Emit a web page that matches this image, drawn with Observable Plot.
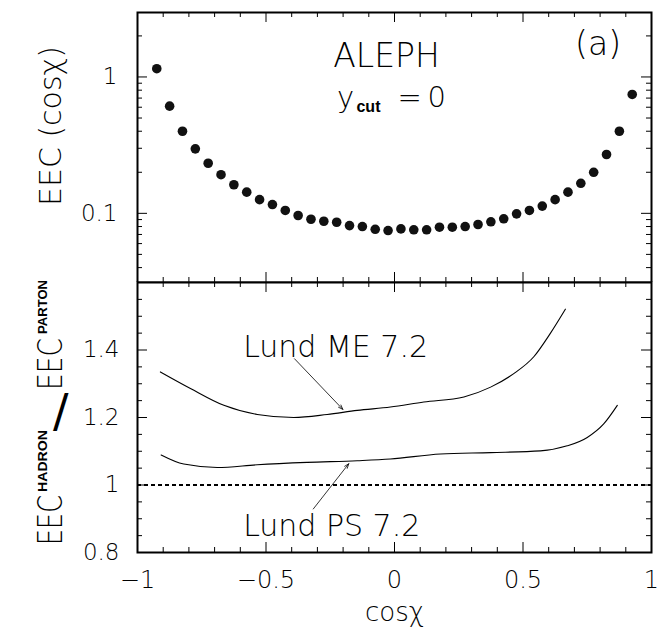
<!DOCTYPE html>
<html><head><meta charset="utf-8">
<script src="https://cdn.jsdelivr.net/npm/d3@7"></script>
<script src="https://cdn.jsdelivr.net/npm/@observablehq/plot@0.6"></script>
<style>
body{margin:0;background:#fff;}
#chart{position:relative;width:670px;height:627px;background:#fff;}
#chart svg{position:absolute;left:0;overflow:visible;}
</style></head><body><div id="chart"></div>
<script>
// ---- data: top panel (ALEPH EEC, y_cut = 0) ----
const cosChi = [-0.925,-0.875,-0.825,-0.775,-0.725,-0.675,-0.625,-0.575,-0.525,-0.475,-0.425,-0.375,-0.325,-0.275,-0.225,-0.175,-0.125,-0.075,-0.025,0.025,0.075,0.125,0.175,0.225,0.275,0.325,0.375,0.425,0.475,0.525,0.575,0.625,0.675,0.725,0.775,0.825,0.875,0.925];
const eec = [1.15,0.611,0.400,0.297,0.233,0.192,0.162,0.143,0.126,0.116,0.105,0.0964,0.0905,0.0875,0.0860,0.0813,0.0800,0.0764,0.0748,0.0769,0.0757,0.0757,0.0791,0.0791,0.0800,0.0828,0.0867,0.0912,0.0991,0.105,0.113,0.126,0.143,0.166,0.200,0.270,0.400,0.744];

// ---- data: bottom panel (hadron / parton ratio) ----
const meX = [-0.911,-0.794,-0.664,-0.534,-0.392,-0.262,-0.145,-0.016,0.114,0.270,0.374,0.464,0.542,0.607,0.665];
const meY = [1.335,1.286,1.236,1.209,1.200,1.209,1.221,1.231,1.246,1.261,1.290,1.330,1.380,1.450,1.521];
const psX = [-0.908,-0.820,-0.690,-0.534,-0.340,-0.145,-0.016,0.179,0.374,0.568,0.672,0.750,0.814,0.867];
const psY = [1.089,1.062,1.052,1.060,1.067,1.072,1.077,1.092,1.096,1.101,1.116,1.141,1.181,1.236];
const referenceLevel = [1];

// ---- ticks & labels ----
const xLabelTicks = [-1,-0.5,0,0.5,1];
const xMajorTicks = [-0.5,0,0.5];
const xMinorTicks = [-0.9,-0.8,-0.7,-0.6,-0.4,-0.3,-0.2,-0.1,0.1,0.2,0.3,0.4,0.6,0.7,0.8,0.9];
const logMajor = [0.1,1];
const logMinor = [0.04,0.05,0.06,0.07,0.08,0.09,0.2,0.3,0.4,0.5,0.6,0.7,0.8,0.9,2];
const ratioMajor = [1.0,1.2,1.4];
const ratioMinor = [0.85,0.9,0.95,1.05,1.1,1.15,1.25,1.3,1.35,1.45,1.5,1.55];
const ratioLabelTicks = [0.8,1,1.2,1.4];

// ---- annotations (data units) ----
const curveLabels = [
  {text:"Lund ME 7.2", x:-0.589, y:1.379},
  {text:"Lund PS 7.2", x:-0.589, y:0.850}
];
const arrows = [
  {x1:-0.389, y1:1.374, x2:-0.201, y2:1.224},
  {x1:-0.316, y1:0.929, x2:-0.178, y2:1.063}
];
const topTitles = [
  {text:"ALEPH", x:-0.031, y:1.18, size:33},
  {text:"(a)", x:0.792, y:1.438, size:33}
];
const ycutParts = [
  {text:"y", x:-0.224, y:0.602, size:29},
  {text:"=", x:0.012, y:0.602, size:29},
  {text:"0", x:0.128, y:0.602, size:29}
];
const ycutSub = [{text:"cut", x:-0.148, y:0.552}];

const W = 670, mL = 137, mR = 19;
const plotW = W - mL - mR;
const topH = 282, topMT = 12, topMB = 0;
const botH = 345, botMT = 0, botMB = 75;
const innerTop = topH - topMT - topMB;
const innerBot = botH - botMT - botMB;
const SANS = "DejaVu Sans";
const ARIAL = "Liberation Sans";
const LIGHT = 200;

const pts = cosChi.map((c,i)=>({c, v:eec[i]}));
const me = meX.map((x,i)=>({x, y:meY[i]}));
const ps = psX.map((x,i)=>({x, y:psY[i]}));

function frameTicksX(H){
  return [
    Plot.tickX(xMinorTicks, {x:d=>d, insetBottom:H-5, strokeWidth:1}),
    Plot.tickX(xMajorTicks, {x:d=>d, insetBottom:H-10, strokeWidth:1}),
    Plot.tickX(xMinorTicks, {x:d=>d, insetTop:H-5, strokeWidth:1}),
    Plot.tickX(xMajorTicks, {x:d=>d, insetTop:H-10, strokeWidth:1})
  ];
}
function frameTicksY(minor, major){
  return [
    Plot.tickY(minor, {y:d=>d, insetRight:plotW-5, strokeWidth:1}),
    Plot.tickY(major, {y:d=>d, insetRight:plotW-10, strokeWidth:1}),
    Plot.tickY(minor, {y:d=>d, insetLeft:plotW-5, strokeWidth:1}),
    Plot.tickY(major, {y:d=>d, insetLeft:plotW-10, strokeWidth:1})
  ];
}

const topPlot = Plot.plot({
  width: W, height: topH,
  marginLeft: mL, marginRight: mR, marginTop: topMT, marginBottom: topMB,
  style: {fontFamily: SANS, fontWeight: LIGHT, color: "black", background: "white", overflow: "visible"},
  x: {domain: [-1, 1], axis: null},
  y: {type: "log", domain: [0.0311, 2.97], axis: null},
  marks: [
    ...frameTicksX(innerTop),
    ...frameTicksY(logMinor, logMajor),
    Plot.axisY({ticks: logMajor, tickSize: 0, tickPadding: 20, fontSize: 23,
      tickFormat: d => d === 1 ? "1" : "0.1", label: null}),
    Plot.dot(pts, {x: "c", y: "v", r: 4.8, fill: "#111", stroke: "none"}),
    Plot.text(topTitles, {x: "x", y: "y", text: "text", fontSize: "size", fontFamily: SANS, fontWeight: LIGHT, lineAnchor: "bottom", textAnchor: "middle"}),
    Plot.text(ycutParts, {x: "x", y: "y", text: "text", fontSize: "size", fontFamily: SANS, fontWeight: LIGHT, lineAnchor: "bottom", textAnchor: "start"}),
    Plot.text(ycutSub, {x: "x", y: "y", text: "text", fontSize: 16, fontWeight: "bold", fontFamily: ARIAL, lineAnchor: "bottom", textAnchor: "start"}),
    Plot.text(["EEC (cosχ)"], {frameAnchor: "left", rotate: -90, dx: 60 - mL, dy: 125.5 - (topMT + innerTop/2),
      lineAnchor: "bottom", textAnchor: "middle", fontSize: 30, fontFamily: SANS, fontWeight: LIGHT}),
    Plot.frame({strokeWidth: 2})
  ]
});

const botPlot = Plot.plot({
  width: W, height: botH,
  marginLeft: mL, marginRight: mR, marginTop: botMT, marginBottom: botMB,
  style: {fontFamily: SANS, fontWeight: LIGHT, color: "black", background: "white", overflow: "visible"},
  x: {domain: [-1, 1], axis: null},
  y: {domain: [0.8, 1.6], axis: null},
  marks: [
    ...frameTicksX(innerBot),
    ...frameTicksY(ratioMinor, ratioMajor),
    Plot.axisY({ticks: ratioLabelTicks, tickSize: 0, tickPadding: 18, fontSize: 23,
      tickFormat: d => String(d), label: null}),
    Plot.axisX({ticks: xLabelTicks, tickSize: 0, tickPadding: 18, fontSize: 24,
      tickFormat: d => (d < 0 ? "\u2212" : "") + Math.abs(d), label: null}),
    Plot.ruleY(referenceLevel, {strokeDasharray: "4,3", strokeWidth: 2}),
    Plot.line(me, {x: "x", y: "y", curve: "monotone-x", strokeWidth: 1.1}),
    Plot.line(ps, {x: "x", y: "y", curve: "monotone-x", strokeWidth: 1.1}),
    Plot.arrow(arrows, {x1: "x1", y1: "y1", x2: "x2", y2: "y2", headLength: 9, headAngle: 40, strokeWidth: 0.8}),
    Plot.text(curveLabels, {x: "x", y: "y", text: "text", fontSize: 30, fontWeight: LIGHT, lineAnchor: "bottom", textAnchor: "start"}),
    Plot.text(["cosχ"], {frameAnchor: "bottom", dy: 68, lineAnchor: "bottom", textAnchor: "middle", fontSize: 26, fontWeight: LIGHT}),
    Plot.frame({strokeWidth: 2})
  ]
});

const chart = document.getElementById("chart");
topPlot.style.top = "0px";
botPlot.style.top = topH + "px";
chart.appendChild(topPlot);
chart.appendChild(botPlot);

// composite y label of the ratio panel: EEC^HADRON / EEC^PARTON (rotated, reads upward)
const sb = d3.select(botPlot);
const g = sb.append("g").attr("transform", `translate(62,${545 - topH}) rotate(-90)`)
  .attr("font-family", SANS).attr("font-weight", LIGHT).attr("fill", "black")
  .attr("text-anchor", "start");
g.append("text").attr("x", 0).attr("y", 0).attr("font-size", 34)
  .attr("textLength", 50).attr("lengthAdjust", "spacingAndGlyphs").text("EEC");
g.append("text").attr("x", 53).attr("y", -15).attr("font-size", 12).attr("font-weight", "bold")
  .attr("font-family", ARIAL)
  .attr("textLength", 62).attr("lengthAdjust", "spacingAndGlyphs").text("HADRON");
g.append("text").attr("x", 155).attr("y", 0).attr("font-size", 34)
  .attr("textLength", 52).attr("lengthAdjust", "spacingAndGlyphs").text("EEC");
g.append("text").attr("x", 211).attr("y", -15).attr("font-size", 12).attr("font-weight", "bold")
  .attr("font-family", ARIAL)
  .attr("textLength", 54).attr("lengthAdjust", "spacingAndGlyphs").text("PARTON");
sb.append("text").attr("x", 53).attr("y", 427 - topH).attr("font-size", 46)
  .attr("text-anchor", "start")
  .attr("font-family", SANS).attr("font-weight", 400).attr("fill", "black").text("/");
</script>
</body></html>
